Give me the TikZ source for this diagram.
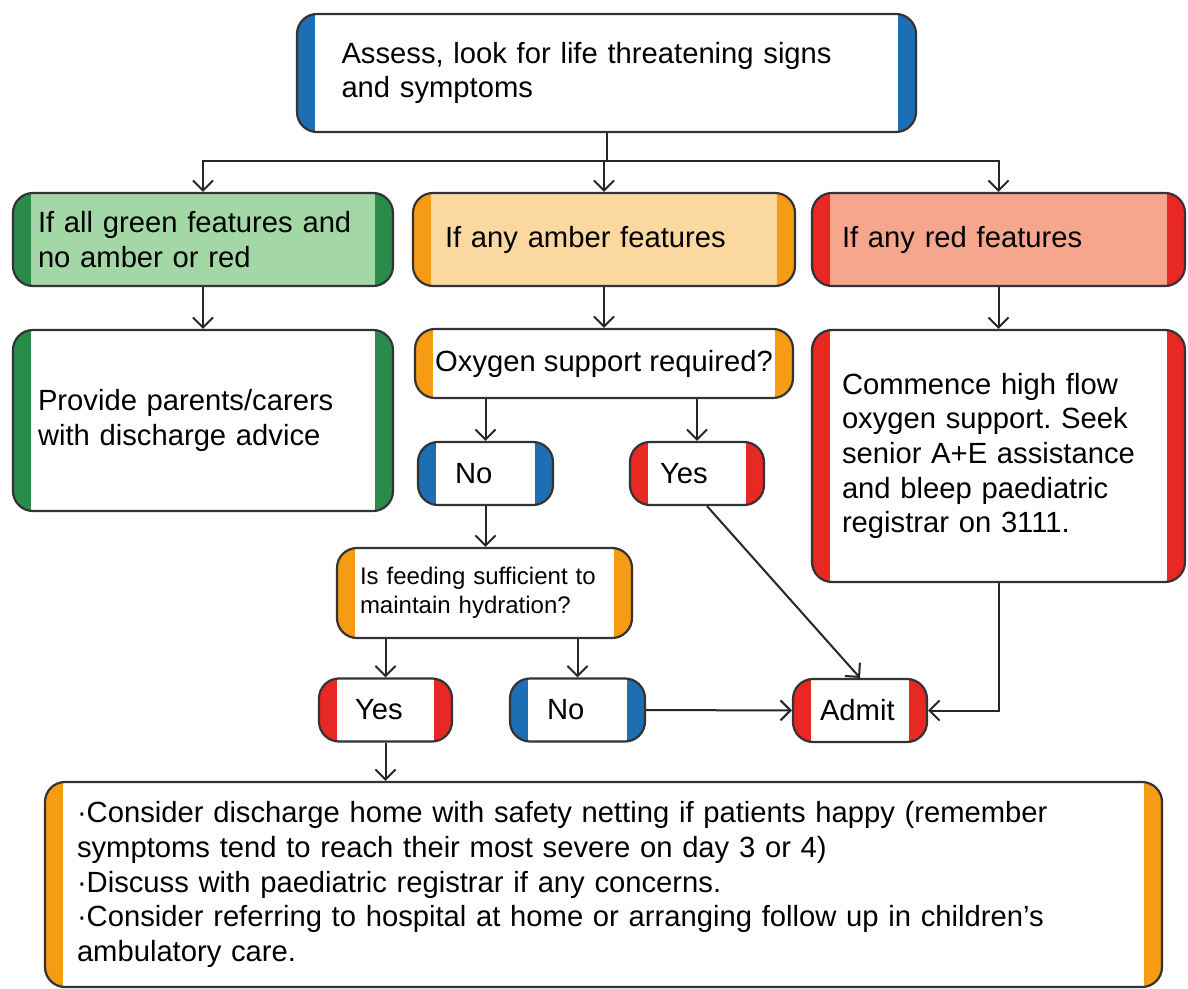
\documentclass[tikz,border=0pt]{standalone}
\usepackage{fontspec}
\setmainfont{Liberation Sans}
\usetikzlibrary{arrows.meta}
\frenchspacing

\definecolor{bluebar}{RGB}{30,110,180}
\definecolor{greenbar}{RGB}{42,140,75}
\definecolor{greenfill}{RGB}{163,215,166}
\definecolor{amberbar}{RGB}{245,155,20}
\definecolor{amberfill}{RGB}{251,216,160}
\definecolor{redbar}{RGB}{232,40,35}
\definecolor{redfill}{RGB}{245,166,140}

\begin{document}
\begin{tikzpicture}
    [x=0.5pt, y=-0.5pt,
      every node/.style={inner sep=0pt, align=left, font=\fontsize{14.6}{17.3}\selectfont},
      box/.style 2 args={draw=black!80, line width=1.1pt, rounded corners=10pt, fill=#2,
        path picture={
          \fill[#1, sharp corners] (path picture bounding box.south west) rectangle ([xshift=9pt]path picture bounding box.north west);
          \fill[#1, sharp corners] (path picture bounding box.south east) rectangle ([xshift=-9pt]path picture bounding box.north east);
        }},
      small/.style={minimum height=31.5pt}, % yes / no / admit
      arr/.style={draw=black!85, line width=1pt, -{Straight Barb[length=5pt,width=10pt]}},
     ]
    \path[use as bounding box, fill=white] (0,0) rectangle (1188,989);

    % top
    \node[box={bluebar}{white}, minimum width=309.5pt, minimum height=59pt, text width=265pt]
      (assess) at (606.5,73) {Assess, look for life threatening signs\\and symptoms};

    % green / amber / red
    \node[box={greenbar}{greenfill}, minimum width=190pt, minimum height=46.5pt, text width=165pt]
      (green) at (203,239.5) {If all green features and\\no amber or red};
    \node[box={amberbar}{amberfill}, minimum width=191pt, minimum height=46.5pt, text width=159pt]
      (amber) at (604,239.5) {If any amber features};
    \node[box={redbar}{redfill}, minimum width=186.5pt, minimum height=46.5pt, text width=156.5pt]
      (red) at (998.5,239.5) {If any red features};

    \node[box={greenbar}{white}, minimum width=190pt, minimum height=90.5pt, text width=165pt]
      (discharge) at (203,420.5) {Provide parents/carers\\with discharge advice};
    \node[box={amberbar}{white}, minimum width=189pt, minimum height=34.5pt]
      (oxygen) at (604,363.5) {Oxygen support required?};
    \node[box={redbar}{white}, minimum width=186.5pt, minimum height=126pt, text width=156.5pt]
      (highflow) at (998.5,456) {Commence high flow\\oxygen support. Seek\\senior A+E assistance\\and bleep paediatric\\registrar on 3111.};

    \node[box={bluebar}{white}, small, minimum width=67.5pt, text width=30.5pt]
      (oxyno) at (485.5,473.5) {No};
    \node[box={redbar}{white}, small, minimum width=67pt, text width=37pt]
      (oxyyes) at (697,473.5) {Yes};

    \node[box={amberbar}{white}, minimum width=147.5pt, minimum height=45pt, text width=124.5pt,
      font=\fontsize{12}{14.5}\selectfont]
      (feeding) at (484.5,593) {Is feeding sufficient to\\maintain hydration?};

    \node[box={redbar}{white}, small, minimum width=66.5pt, text width=30.5pt]
      (feedyes) at (385.5,710) {Yes};
    \node[box={bluebar}{white}, small, minimum width=67.5pt, text width=30.5pt]
      (feedno) at (577.5,710) {No};
    \node[box={redbar}{white}, small, minimum width=67pt, text width=40pt]
      (admit) at (860,710.5) {Admit};

    % bottom
    \node[box={amberbar}{white}, minimum width=558.5pt, minimum height=102.5pt, text width=526.5pt]
      (home) at (603.5,884.5) {·Consider discharge home with safety netting if patients happy (remember\\
      symptoms tend to reach their most severe on day 3 or 4)\\
      ·Discuss with paediatric registrar if any concerns.\\
      ·Consider referring to hospital at home or arranging follow up in children’s\\
      ambulatory care.};

    \draw[arr] (assess.south) -- ++(0,28) -| (green.north);
    \draw[arr] (assess.south) -- ++(0,28) -| (amber.north);
    \draw[arr] (assess.south) -- ++(0,28) -| (red.north);

    \draw[arr] (green) -- (discharge);
    \draw[arr] (amber.south) -- (amber.south |- oxygen.north);
    \draw[arr] (red) -- (highflow);

    \draw[arr] (oxyno.north |- oxygen.south) -- (oxyno.north);
    \draw[arr] (oxyyes.north |- oxygen.south) -- (oxyyes.north);
    \draw[arr] (oxyno.south) -- (oxyno.south |- feeding.north);

    \draw[arr] (feedyes.north |- feeding.south) -- (feedyes.north);
    \draw[arr] (feedno.north |- feeding.south) -- (feedno.north);

    \draw[arr] (feedno) -- (admit);
    \draw[arr] ([xshift=5pt]oxyyes.south) -- (admit.north);
    \draw[arr] (highflow.south) |- (admit.east);
    \draw[arr] (feedyes.south) -- (feedyes.south |- home.north);
    \end{tikzpicture}
\end{document}
